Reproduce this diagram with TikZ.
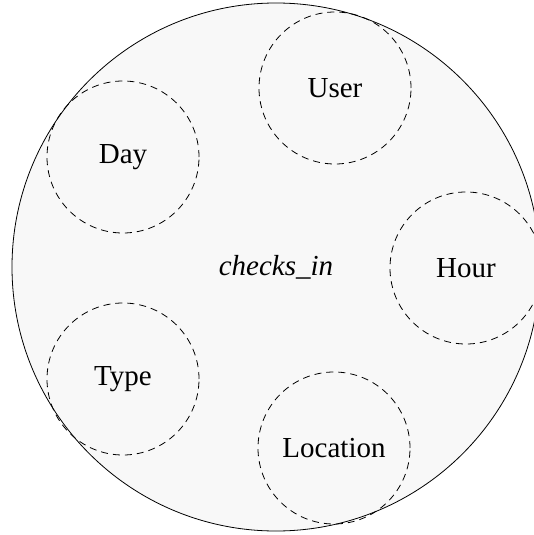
\documentclass[tikz,border=0pt]{standalone}
\usepackage{fontspec}
\setmainfont{Liberation Serif}
\begin{document}
\begin{tikzpicture}[x=1pt,y=-1pt,
  outer/.style={circle, draw=black, line width=0.8pt, fill={rgb,255:red,248;green,248;blue,248}, minimum size=528pt, inner sep=0pt, font=\fontsize{29}{34}\selectfont\itshape},
  attr/.style={circle, draw=black, line width=0.8pt, dash pattern=on 7pt off 5pt, minimum size=152pt, inner sep=0pt, font=\fontsize{29}{34}\selectfont}]
\useasboundingbox (0,0) rectangle (534,535);
\clip (0,0) rectangle (534,535);
\node[outer] (rel) at (276,267) {checks\_in};
\node[attr] (user) at (335,88) {User};
\node[attr] (day) at (123,157) {Day};
\node[attr] (hour) at (466,268) {Hour};
\node[attr] (type) at (123,379) {Type};
\node[attr] (loc) at (334,448) {Location};
\end{tikzpicture}
\end{document}
